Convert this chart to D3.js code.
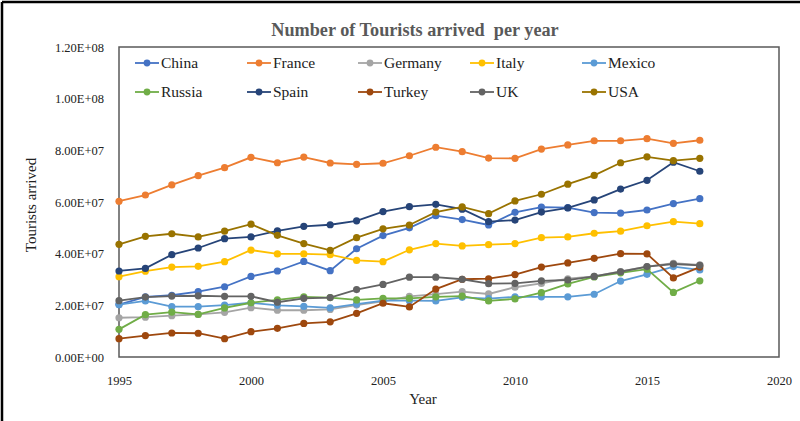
<!DOCTYPE html>
<html>
<head>
<meta charset="utf-8">
<script src="https://cdn.jsdelivr.net/npm/d3@7"></script>
<style>
  html, body { margin: 0; padding: 0; background: #fff; }
  svg { display: block; font-family: "Liberation Serif", "Times New Roman", serif; }
  svg text { font-family: "Liberation Serif", "Times New Roman", serif; }
</style>
</head>
<body>
<svg id="chart" width="800" height="421"></svg>
<script>
const years = d3.range(1995, 2018);
const countries = ["China","France","Germany","Italy","Mexico","Russia","Spain","Turkey","UK","USA"];
const colors = ["#4472C4","#ED7D31","#A5A5A5","#FFC000","#5B9BD5","#70AD47","#264478","#9E480E","#636363","#997300"];

// values in units of 1e7 tourists
const china   = [2.03,2.33,2.39,2.53,2.72,3.12,3.33,3.70,3.34,4.19,4.70,5.00,5.47,5.32,5.11,5.60,5.80,5.78,5.59,5.57,5.69,5.94,6.13];
const france  = [6.03,6.27,6.66,7.02,7.33,7.73,7.52,7.74,7.51,7.46,7.50,7.79,8.12,7.95,7.70,7.69,8.05,8.21,8.37,8.37,8.45,8.27,8.39];
const germany = [1.52,1.54,1.60,1.65,1.73,1.91,1.81,1.81,1.84,2.01,2.15,2.35,2.43,2.53,2.44,2.70,2.85,3.03,3.12,3.31,3.50,3.63,3.57];
const italy   = [3.11,3.32,3.48,3.51,3.69,4.14,3.99,3.99,3.96,3.74,3.69,4.15,4.39,4.30,4.35,4.39,4.62,4.65,4.79,4.87,5.08,5.24,5.16];
const mexico  = [2.03,2.17,1.95,1.95,2.01,2.10,2.00,1.96,1.90,2.05,2.18,2.18,2.17,2.31,2.26,2.33,2.33,2.33,2.43,2.94,3.20,3.50,3.37];
const russia  = [1.07,1.64,1.74,1.65,1.90,2.10,2.21,2.33,2.30,2.21,2.27,2.27,2.33,2.36,2.17,2.25,2.49,2.83,3.10,3.26,3.40,2.50,2.95];
const spain   = [3.33,3.43,3.96,4.22,4.58,4.65,4.88,5.06,5.12,5.27,5.63,5.82,5.91,5.72,5.24,5.30,5.61,5.77,6.08,6.50,6.84,7.54,7.19];
const turkey  = [0.71,0.83,0.93,0.92,0.71,0.98,1.11,1.30,1.36,1.69,2.08,1.94,2.63,3.01,3.03,3.19,3.48,3.64,3.82,4.00,3.99,3.06,3.48];
const uk      = [2.18,2.32,2.36,2.37,2.35,2.35,2.12,2.27,2.30,2.61,2.81,3.09,3.09,3.01,2.84,2.85,2.95,2.98,3.12,3.30,3.50,3.60,3.55];
const usa     = [4.36,4.67,4.77,4.65,4.87,5.14,4.71,4.39,4.13,4.62,4.96,5.11,5.61,5.81,5.55,6.04,6.30,6.69,7.03,7.52,7.75,7.60,7.69];
const seriesValues = [china,france,germany,italy,mexico,russia,spain,turkey,uk,usa];

const xTicks = [1995,2000,2005,2010,2015,2020];
const yTicks = [0,2e7,4e7,6e7,8e7,1e8,1.2e8];
const titleText = "Number of Tourists arrived  per year";
const xTitle = "Year";
const yTitle = "Tourists arrived";

const svg = d3.select("#chart");

// outer frame (left & top edges visible)
svg.append("line").attr("x1",2).attr("y1",2).attr("x2",800).attr("y2",2).attr("stroke","#000").attr("stroke-width",2.5);
svg.append("line").attr("x1",2).attr("y1",2).attr("x2",2).attr("y2",421).attr("stroke","#000").attr("stroke-width",2.5);

const plot = {left:119, right:779, top:47, bottom:357};
const x = d3.scaleLinear().domain([1995,2020]).range([plot.left, plot.right]);
const y = d3.scaleLinear().domain([0,1.2e8]).range([plot.bottom, plot.top]);

function sci(v){
  if (v === 0) return "0.00E+00";
  const e = Math.floor(Math.log10(v));
  const m = v / Math.pow(10,e);
  return m.toFixed(2) + "E+" + String(e).padStart(2,"0");
}

// plot border
svg.append("rect").attr("x",plot.left).attr("y",plot.top)
  .attr("width",plot.right-plot.left).attr("height",plot.bottom-plot.top)
  .attr("fill","none").attr("stroke","#595959").attr("stroke-width",1.5);

// axes
const xAxis = svg.append("g").attr("transform",`translate(0,${plot.bottom})`)
  .call(d3.axisBottom(x).tickValues(xTicks).tickFormat(d3.format("d")).tickSize(0).tickPadding(19));
const yAxis = svg.append("g").attr("transform",`translate(${plot.left},0)`)
  .call(d3.axisLeft(y).tickValues(yTicks).tickFormat(sci).tickSize(0).tickPadding(15));
[xAxis,yAxis].forEach(g=>{
  g.attr("font-family",null);
  g.select(".domain").remove();
  g.selectAll("text").attr("font-size",12.5).attr("fill","#222");
});

// title
svg.append("text").attr("x",415).attr("y",36).attr("text-anchor","middle")
  .attr("font-size",18.2).attr("font-weight","bold").attr("fill","#595959")
  .style("white-space","pre").text(titleText);

// axis titles
svg.append("text").attr("x",423).attr("y",404).attr("text-anchor","middle")
  .attr("font-size",15).attr("fill","#222").text(xTitle);
svg.append("text").attr("transform","translate(36,205) rotate(-90)").attr("text-anchor","middle")
  .attr("font-size",15).attr("fill","#222").text(yTitle);

// series
const line = d3.line().x((d,i)=>x(years[i])).y(d=>y(d*1e7));
countries.forEach((c,k)=>{
  const g = svg.append("g");
  g.append("path").datum(seriesValues[k]).attr("d",line)
    .attr("fill","none").attr("stroke",colors[k]).attr("stroke-width",1.8);
  g.selectAll("circle").data(seriesValues[k]).join("circle")
    .attr("cx",(d,i)=>x(years[i])).attr("cy",d=>y(d*1e7)).attr("r",3.6)
    .attr("fill",colors[k]);
});

// legend
const legX = [135,247,358,470,582];
const legY = [63,92];
countries.forEach((c,k)=>{
  const lx = legX[k%5], ly = legY[Math.floor(k/5)];
  const g = svg.append("g");
  g.append("line").attr("x1",lx).attr("x2",lx+24).attr("y1",ly).attr("y2",ly)
    .attr("stroke",colors[k]).attr("stroke-width",1.8);
  g.append("circle").attr("cx",lx+12).attr("cy",ly).attr("r",3.4).attr("fill",colors[k]);
  g.append("text").attr("x",lx+26).attr("y",ly+5).attr("font-size",15.5).attr("fill","#222").text(c);
});
</script>
</body>
</html>
